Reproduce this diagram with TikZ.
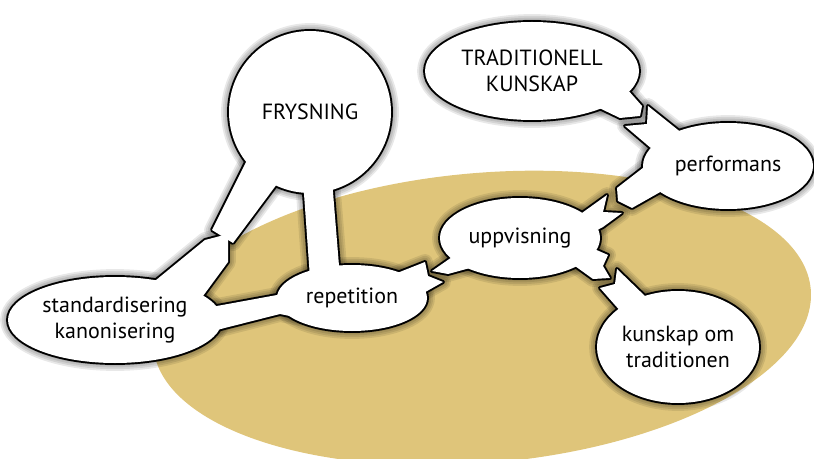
\documentclass[tikz,border=0pt]{standalone}
\usepackage{fontspec}
\setmainfont{PT Sans}
\usepackage{tikz}
\usetikzlibrary{calc}
\pgfdeclarelayer{ground}
\pgfdeclarelayer{shade}
\pgfdeclarelayer{ink}
\pgfdeclarelayer{paper}
\pgfsetlayers{ground,shade,ink,paper,main}
\definecolor{sand}{RGB}{223,197,122}
\newcommand{\bubble}[1]{%
  \begin{pgfonlayer}{shade}
    \foreach \w in {1,3,5,7,9} {\path[drop, line width=\w pt] #1;}
  \end{pgfonlayer}
  \begin{pgfonlayer}{ink}\path[rim] #1;\end{pgfonlayer}
  \begin{pgfonlayer}{paper}\path[paper] #1;\end{pgfonlayer}}

\begin{document}
\begin{tikzpicture}[x=0.02cm, y=-0.02cm,
  word/.style={align=center, inner sep=0pt, font=\fontsize{12.5}{15}\selectfont},
  drop/.style={fill=black, draw=black, opacity=0.09, xshift=3.5pt, yshift=-3.5pt, line join=round},
  rim/.style={draw=black, line width=2.2pt, line join=round},
  paper/.style={fill=white}
]
  \useasboundingbox (0,0) rectangle (814,459);
  \begin{pgfonlayer}{ground}
    \fill[sand, rotate around={5:(482,318)}] (482,318) ellipse (330 and 145);
  \end{pgfonlayer}

  \node[word] (frys) at (310,112) {FRYSNING};
  \node[word] (trad) at (532,71) {TRADITIONELL\\KUNSKAP};
  \node[word] (perf) at (728,166) {performans};
  \node[word] (upp) at (520,238) {uppvisning};
  \node[word] (rep) at (352,298) {repetition};
  \node[word] (std) at (115,320) {standardisering\\kanonisering};
  \node[word] (kun) at (678,347) {kunskap om\\traditionen};

  \bubble{(frys.center) circle (81)}
  \bubble{(trad.center) ellipse (107 and 49)}
  \bubble{(perf.center) ellipse (85 and 43)}
  \bubble{(upp.center) ellipse (80 and 40)}
  \bubble{(rep.center) ellipse (75 and 33)}
  \bubble{(std.center) ellipse (107 and 43)}
  \bubble{(kun.center) ellipse (81 and 56)}

  \bubble{($(frys)+(-62,46)$) -- ($(frys)+(-98,118)$) -- ($(frys)+(-77,131)$)
    -- ($(frys)+(-30,68)$) -- cycle}
  \bubble{($(std)+(35,-35)$) -- ($(std)+(90,-80)$) -- ($(std)+(113,-86)$)
    -- ($(std)+(113,-58)$) -- ($(std)+(88,-24)$) -- ($(std)+(75,-20)$) -- cycle}
  \bubble{($(frys)+(-7,68)$) -- ($(rep)+(-42,-20)$) -- ($(rep)+(-12,-20)$)
    -- ($(frys)+(22,68)$) -- cycle}
  \bubble{($(std)+(80,-10)$) -- ($(rep)+(-75,-3)$) -- ($(rep)+(-57,-13)$)
    -- ($(rep)+(-52,20)$) -- ($(rep)+(-72,16)$) -- ($(std)+(90,13)$) -- cycle}
  \bubble{($(rep)+(40,-23)$) -- ($(rep)+(73,-36)$) -- ($(rep)+(76,-22)$)
    -- ($(rep)+(91,-16)$) -- ($(rep)+(68,-3)$) -- cycle}
  \bubble{($(upp)+(-65,17)$) -- ($(upp)+(-88,33)$) -- ($(upp)+(-72,36)$)
    -- ($(upp)+(-50,30)$) -- cycle}
  \bubble{($(upp)+(55,-20)$) -- ($(upp)+(87,-43)$) -- ($(upp)+(83,-26)$)
    -- ($(upp)+(102,-25)$) -- ($(upp)+(83,-11)$) -- ($(upp)+(68,-3)$) -- cycle}
  \bubble{($(upp)+(72,10)$) -- ($(upp)+(88,17)$) -- ($(upp)+(83,28)$)
    -- ($(upp)+(90,40)$) -- ($(upp)+(73,41)$) -- ($(upp)+(55,28)$) -- cycle}
  \bubble{($(kun)+(-56,-34)$) -- ($(kun)+(-78,-59)$) -- ($(kun)+(-63,-63)$)
    -- ($(kun)+(-61,-78)$) -- ($(kun)+(-30,-48)$) -- cycle}
  \bubble{($(perf)+(-45,-32)$) -- ($(perf)+(-80,-60)$) -- ($(perf)+(-81,-42)$)
    -- ($(perf)+(-103,-40)$) -- ($(perf)+(-76,-17)$) -- ($(perf)+(-80,-2)$)
    -- ($(perf)+(-111,22)$) -- ($(perf)+(-110,35)$) -- ($(perf)+(-96,42)$)
    -- ($(perf)+(-66,25)$) -- cycle}
  \bubble{($(trad)+(63,35)$) -- ($(trad)+(88,47)$) -- ($(trad)+(108,45)$)
    -- ($(trad)+(110,35)$) -- ($(trad)+(95,18)$) -- cycle}
\end{tikzpicture}
\end{document}
